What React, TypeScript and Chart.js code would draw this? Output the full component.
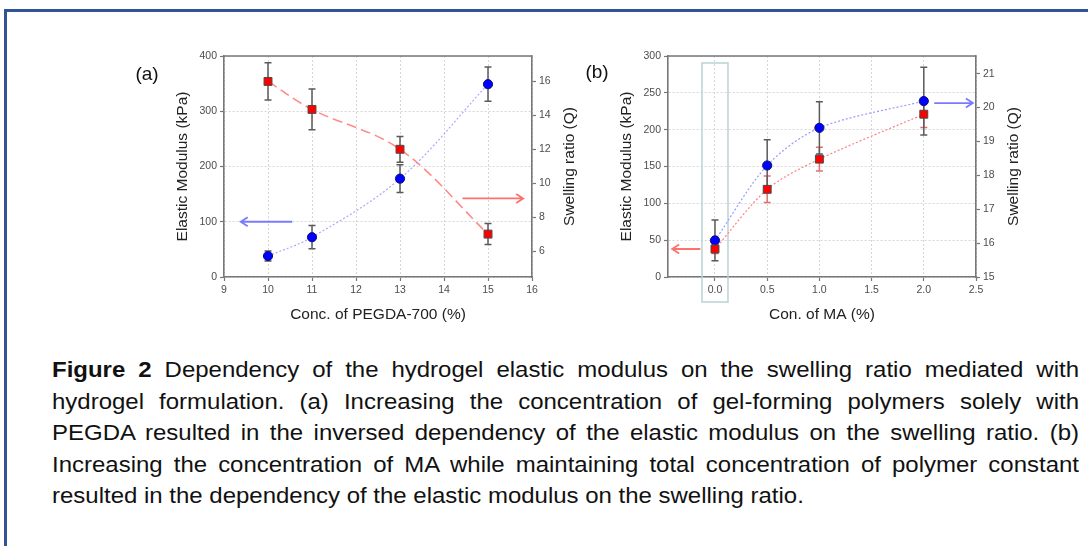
import React, { useEffect, useRef } from 'react';
import { Chart, registerables } from 'chart.js';

Chart.register(...registerables);

// ---------- data: panel (a) ----------
const concA = [10, 11, 13, 15];
const modulusA = [38, 72, 178, 349];
const modulusErrA = [9, 21, 25, 31];
const swellA = [16.0, 14.35, 12.0, 7.0];
const swellErrA = [1.1, 1.2, 0.76, 0.62];
const xTicksA = [9, 10, 11, 12, 13, 14, 15, 16];
const yTicksA = [0, 100, 200, 300, 400];
const y2TicksA = [6, 8, 10, 12, 14, 16];

// ---------- data: panel (b) ----------
const concB = [0.0, 0.5, 1.0, 2.0];
const modulusB = [38, 119, 160, 221];
const modulusErrB = [6, 18, 16, 18];
const swellB = [16.08, 18.29, 19.4, 20.19];
const swellErrB = [0.6, 0.76, 0.77, 1.0];
const xTicksB = [0, 0.5, 1, 1.5, 2, 2.5];
const yTicksB = [0, 50, 100, 150, 200, 250, 300];
const y2TicksB = [15, 16, 17, 18, 19, 20, 21];

const captionLines = [
  'Dependency of the hydrogel elastic modulus on the swelling ratio mediated with',
  'hydrogel formulation. (a) Increasing the concentration of gel-forming polymers solely with',
  'PEGDA resulted in the inversed dependency of the elastic modulus on the swelling ratio. (b)',
  'Increasing the concentration of MA while maintaining total concentration of polymer constant',
  'resulted in the dependency of the elastic modulus on the swelling ratio.',
];

const FONT = "'Liberation Sans', Arial, sans-serif";
const AXIS = '#777777';
const TICKTXT = '#4c4c4c';
const GRID = '#d6d6d6';

type ErrSpec = { ds: number; axis: string; err: number[]; color: string };
type ArrowSpec = { x1: number; x2: number; y: number; axis: string; color: string };
type DecorSpec = {
  label: string;
  labelDx: number;
  labelDy: number;
  yTitle: string;
  y2Title: string;
  xTitle: string;
  errors: ErrSpec[];
  arrows: ArrowSpec[];
  highlightX?: number;
};

function makeDecor(spec: DecorSpec) {
  return {
    id: 'decor_' + spec.label,
    beforeDatasetsDraw(chart: any) {
      const ctx: CanvasRenderingContext2D = chart.ctx;
      const xs = chart.scales.x;
      const area = chart.chartArea;
      if (spec.highlightX !== undefined) {
        const px = xs.getPixelForValue(spec.highlightX);
        ctx.save();
        ctx.strokeStyle = '#bcd2d2';
        ctx.lineWidth = 1.5;
        ctx.strokeRect(px - 13, area.top + 7, 26, area.bottom - area.top + 18);
        ctx.restore();
      }
      spec.errors.forEach((e) => {
        const ys = chart.scales[e.axis];
        const data = chart.data.datasets[e.ds].data;
        ctx.save();
        ctx.strokeStyle = e.color;
        ctx.lineWidth = 1.5;
        data.forEach((pt: any, i: number) => {
          const px = xs.getPixelForValue(pt.x);
          const top = ys.getPixelForValue(pt.y + e.err[i]);
          const bot = ys.getPixelForValue(pt.y - e.err[i]);
          ctx.beginPath();
          ctx.moveTo(px, top);
          ctx.lineTo(px, bot);
          ctx.moveTo(px - 3.5, top);
          ctx.lineTo(px + 3.5, top);
          ctx.moveTo(px - 3.5, bot);
          ctx.lineTo(px + 3.5, bot);
          ctx.stroke();
        });
        ctx.restore();
      });
    },
    afterDraw(chart: any) {
      const ctx: CanvasRenderingContext2D = chart.ctx;
      const area = chart.chartArea;
      const xs = chart.scales.x;
      ctx.save();
      ctx.strokeStyle = AXIS;
      ctx.lineWidth = 1.5;
      ctx.beginPath();
      ctx.moveTo(area.left, area.top);
      ctx.lineTo(area.right, area.top);
      ctx.stroke();
      ctx.restore();
      spec.arrows.forEach((a) => {
        const ys = chart.scales[a.axis];
        const x1 = xs.getPixelForValue(a.x1);
        const x2 = xs.getPixelForValue(a.x2);
        const y = ys.getPixelForValue(a.y);
        const dir = x2 > x1 ? 1 : -1;
        ctx.save();
        ctx.strokeStyle = a.color;
        ctx.lineWidth = 1.8;
        ctx.beginPath();
        ctx.moveTo(x1, y);
        ctx.lineTo(x2, y);
        ctx.moveTo(x2 - dir * 7, y - 4.5);
        ctx.lineTo(x2, y);
        ctx.lineTo(x2 - dir * 7, y + 4.5);
        ctx.stroke();
        ctx.restore();
      });
      ctx.save();
      ctx.fillStyle = '#222222';
      ctx.textAlign = 'center';
      ctx.textBaseline = 'middle';
      ctx.font = `15.5px ${FONT}`;
      const cy = (area.top + area.bottom) / 2;
      ctx.save();
      ctx.translate(area.left - 41, cy);
      ctx.rotate(-Math.PI / 2);
      ctx.fillText(spec.yTitle, 0, 0);
      ctx.restore();
      ctx.save();
      ctx.translate(area.right + 38, cy);
      ctx.rotate(-Math.PI / 2);
      ctx.fillText(spec.y2Title, 0, 0);
      ctx.restore();
      ctx.fillText(spec.xTitle, (area.left + area.right) / 2, area.bottom + 38);
      ctx.font = `19px ${FONT}`;
      ctx.fillStyle = '#111111';
      ctx.fillText(spec.label, area.left + spec.labelDx, area.top + spec.labelDy);
      ctx.restore();
    },
  };
}

function axisBase(ticks: number[], fmt?: (v: number) => string) {
  return {
    type: 'linear' as const,
    afterBuildTicks: (s: any) => {
      s.ticks = ticks.map((v) => ({ value: v }));
    },
    ticks: {
      color: TICKTXT,
      font: { family: FONT, size: 10.5 },
      padding: 3,
      autoSkip: false,
      maxRotation: 0,
      callback: (v: any) => (fmt ? fmt(Number(v)) : String(v)),
    },
    border: { display: true, color: AXIS, width: 1.6, dash: [2, 2] },
  };
}

function buildConfig(opts: {
  xMin: number; xMax: number; xTicks: number[]; xFmt?: (v: number) => string;
  yMin: number; yMax: number; yTicks: number[];
  y2Min: number; y2Max: number; y2Ticks: number[];
  leftW: number; rightW: number; bottomH: number; top: number;
  datasets: any[]; decor: any;
}) {
  return {
    type: 'scatter' as const,
    data: { datasets: opts.datasets },
    options: {
      responsive: false,
      animation: false as const,
      devicePixelRatio: 1,
      layout: { padding: { top: opts.top, left: 0, right: 0, bottom: 0 } },
      plugins: { legend: { display: false }, tooltip: { enabled: false } },
      scales: {
        x: {
          ...axisBase(opts.xTicks, opts.xFmt),
          min: opts.xMin,
          max: opts.xMax,
          afterFit: (s: any) => { s.height = opts.bottomH; },
          grid: { color: GRID, lineWidth: 1, tickColor: AXIS, tickLength: 4, tickWidth: 1.2 },
        },
        y: {
          ...axisBase(opts.yTicks),
          position: 'left' as const,
          min: opts.yMin,
          max: opts.yMax,
          afterFit: (s: any) => { s.width = opts.leftW; },
          grid: { color: GRID, lineWidth: 1, tickColor: AXIS, tickLength: 4, tickWidth: 1.2 },
        },
        y2: {
          ...axisBase(opts.y2Ticks),
          position: 'right' as const,
          min: opts.y2Min,
          max: opts.y2Max,
          afterFit: (s: any) => { s.width = opts.rightW; },
          grid: { drawOnChartArea: false, tickColor: AXIS, tickLength: 4, tickWidth: 1.2 },
        },
      },
    },
    plugins: [opts.decor],
  };
}

const blueCircle = {
  pointStyle: 'circle',
  pointRadius: 4.6,
  pointBackgroundColor: '#0000ff',
  pointBorderColor: '#101070',
  pointBorderWidth: 1,
};
const redSquare = {
  pointStyle: 'rect',
  pointRadius: 5.6,
  pointBackgroundColor: '#ff0000',
  pointBorderColor: '#4a4a4a',
  pointBorderWidth: 1,
};

function configA() {
  const blue = {
    ...blueCircle,
    data: concA.map((x, i) => ({ x, y: modulusA[i] })),
    yAxisID: 'y',
    showLine: true,
    tension: 0.35,
    borderColor: '#a8a8ff',
    borderWidth: 1.2,
    borderDash: [2, 2],
  };
  const red = {
    ...redSquare,
    data: concA.map((x, i) => ({ x, y: swellA[i] })),
    yAxisID: 'y2',
    showLine: true,
    tension: 0.35,
    borderColor: '#ff8a8a',
    borderWidth: 1.6,
    borderDash: [10, 5],
  };
  const decor = makeDecor({
    label: '(a)',
    labelDx: -77,
    labelDy: 19,
    yTitle: 'Elastic Modulus (kPa)',
    y2Title: 'Swelling ratio (Q)',
    xTitle: 'Conc. of PEGDA-700 (%)',
    errors: [
      { ds: 0, axis: 'y', err: modulusErrA, color: '#5a5a5a' },
      { ds: 1, axis: 'y2', err: swellErrA, color: '#5a5a5a' },
    ],
    arrows: [
      { x1: 10.55, x2: 9.38, y: 100, axis: 'y', color: '#7a7aff' },
      { x1: 14.42, x2: 15.8, y: 9.1, axis: 'y2', color: '#ff7070' },
    ],
  });
  return buildConfig({
    xMin: 9, xMax: 16, xTicks: xTicksA,
    yMin: 0, yMax: 400, yTicks: yTicksA,
    y2Min: 4.47, y2Max: 17.5, y2Ticks: y2TicksA,
    leftW: 224, rightW: 600 - 532, bottomH: 340 - 277, top: 56,
    datasets: [blue, red],
    decor,
  });
}

function configB() {
  const red = {
    ...redSquare,
    data: concB.map((x, i) => ({ x, y: modulusB[i] })),
    yAxisID: 'y',
    showLine: true,
    tension: 0.3,
    borderColor: '#ff8080',
    borderWidth: 1.2,
    borderDash: [2, 2],
  };
  const blue = {
    ...blueCircle,
    data: concB.map((x, i) => ({ x, y: swellB[i] })),
    yAxisID: 'y2',
    showLine: true,
    tension: 0.3,
    borderColor: '#9a9aff',
    borderWidth: 1.2,
    borderDash: [2, 2],
  };
  const decor = makeDecor({
    label: '(b)',
    labelDx: -71,
    labelDy: 17,
    yTitle: 'Elastic Modulus (kPa)',
    y2Title: 'Swelling ratio (Q)',
    xTitle: 'Con. of MA (%)',
    errors: [
      { ds: 0, axis: 'y', err: modulusErrB, color: '#e07070' },
      { ds: 1, axis: 'y2', err: swellErrB, color: '#5a5a5a' },
    ],
    arrows: [
      { x1: -0.14, x2: -0.41, y: 38, axis: 'y', color: '#ff7070' },
      { x1: 2.1, x2: 2.47, y: 20.13, axis: 'y2', color: '#7a7aff' },
    ],
    highlightX: 0,
  });
  return buildConfig({
    xMin: -0.45, xMax: 2.5, xTicks: xTicksB, xFmt: (v) => v.toFixed(1),
    yMin: 0, yMax: 300, yTicks: yTicksB,
    y2Min: 15, y2Max: 21.52, y2Ticks: y2TicksB,
    leftW: 668 - 560, rightW: 528 - (976 - 560), bottomH: 340 - 277, top: 56,
    datasets: [red, blue],
    decor,
  });
}

function ChartCanvas(props: { make: () => any; left: number; width: number; height: number }) {
  const ref = useRef<HTMLCanvasElement | null>(null);
  useEffect(() => {
    if (!ref.current) return;
    const chart = new Chart(ref.current, props.make());
    return () => chart.destroy();
  }, []);
  return (
    <canvas
      ref={ref}
      width={props.width}
      height={props.height}
      style={{ position: 'absolute', left: props.left, top: 0, width: props.width, height: props.height }}
    />
  );
}

export default function App() {
  const sx = 1.09;
  const capWidth = 1027;
  return (
    <div
      style={{
        position: 'absolute',
        left: 0,
        top: 0,
        width: 1088,
        height: 546,
        background: '#ffffff',
        overflow: 'hidden',
      }}
    >
      <div
        style={{
          position: 'absolute',
          left: 4,
          top: 9,
          width: 1100,
          height: 600,
          borderTop: '3px solid #2f5597',
          borderLeft: '3px solid #2f5597',
        }}
      />
      <ChartCanvas make={configA} left={0} width={600} height={340} />
      <ChartCanvas make={configB} left={560} width={528} height={340} />
      <div
        style={{
          position: 'absolute',
          left: 52,
          top: 354,
          width: capWidth / sx,
          transform: `scaleX(${sx})`,
          transformOrigin: 'left top',
          fontFamily: FONT,
          fontSize: 22,
          lineHeight: '31.5px',
          color: '#111111',
        }}
      >
        {captionLines.map((line, i) => (
          <div
            key={i}
            style={{
              textAlign: 'justify',
              textAlignLast: i < captionLines.length - 1 ? 'justify' : 'left',
              whiteSpace: 'nowrap',
            }}
          >
            {i === 0 ? (
              <>
                <b>Figure 2</b> {line}
              </>
            ) : (
              line
            )}
          </div>
        ))}
      </div>
    </div>
  );
}
